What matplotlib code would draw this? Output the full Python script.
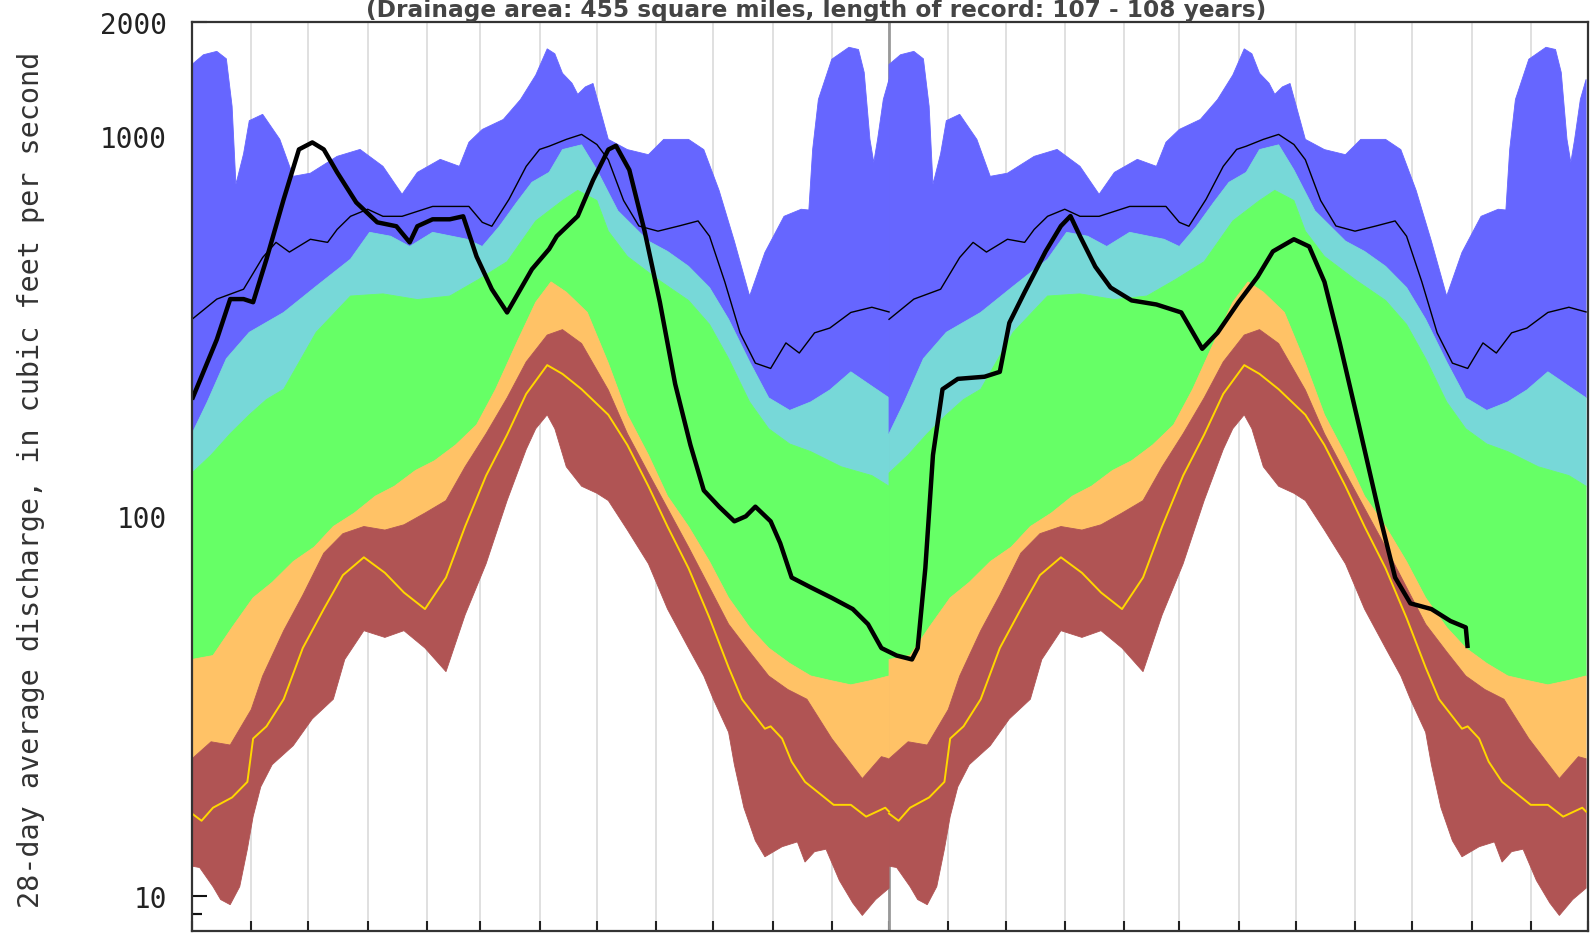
import numpy as np
import matplotlib
matplotlib.use("Agg")
import matplotlib.pyplot as plt
import matplotlib.dates as mdates
from matplotlib.ticker import FixedLocator, NullFormatter, FixedFormatter

# ---------------- data (water-year day 0 = Oct 1) ----------------
title_text = "(Drainage area: 455 square miles, length of record: 107 - 108 years)"
ylabel_text = "28-day average discharge, in cubic feet per second"
water_year_starts = ["2022-10-01", "2023-10-01"]

max_days = [0, 6, 13, 18, 21, 23, 27, 30, 37, 46, 53, 62, 76, 88, 100, 110, 118, 130, 140, 145,
            152, 163, 172, 180, 186, 190, 194, 199, 202, 206, 210, 218, 228, 239, 247, 260, 268,
            276, 284, 292, 300, 310, 319, 323, 325, 328, 335, 344, 349, 352, 355, 357, 359, 362, 365]
max_vals = [1546, 1640, 1674, 1600, 1200, 748, 900, 1100, 1143, 982, 785, 800, 886, 924, 834, 704,
            804, 870, 834, 965, 1043, 1108, 1250, 1450, 1700, 1650, 1466, 1380, 1290, 1350, 1378,
            982, 923, 895, 982, 982, 923, 721, 530, 380, 495, 616, 643, 640, 924, 1251, 1596, 1716,
            1693, 1473, 982, 854, 982, 1251, 1413]

p90_days = [0, 8, 18, 30, 48, 65, 83, 93, 104, 114, 126, 144, 152, 161, 170, 178, 187, 194, 204,
            212, 223, 239, 249, 260, 271, 281, 292, 302, 313, 324, 334, 345, 356, 365]
p90_vals = [165, 200, 260, 305, 344, 403, 475, 559, 546, 513, 559, 536, 513, 580, 670, 757, 804,
            923, 950, 816, 637, 530, 498, 455, 400, 330, 255, 205, 190, 200, 215, 240, 220, 205]

p75_days = [0, 10, 20, 30, 39, 48, 65, 83, 100, 118, 135, 150, 165, 180, 194, 202, 212, 218, 228,
            244, 260, 271, 281, 292, 302, 313, 324, 340, 356, 365]
p75_vals = [130, 145, 165, 185, 203, 216, 305, 380, 385, 372, 380, 420, 468, 599, 678, 721, 678,
            563, 483, 420, 370, 320, 260, 200, 170, 155, 148, 135, 128, 120]

p25_days = [0, 11, 21, 32, 42, 53, 64, 74, 85, 96, 106, 117, 127, 138, 149, 159, 170, 180, 188,
            196, 207, 218, 228, 239, 249, 260, 271, 281, 292, 302, 313, 324, 334, 345, 356, 365]
p25_vals = [42, 43, 51, 61, 67, 76, 83, 94, 102, 113, 120, 132, 140, 154, 174, 216, 286, 366, 414,
            389, 344, 253, 185, 145, 113, 94, 76, 61, 51, 45, 41, 38, 37, 36, 37, 38]

p10_days = [0, 10, 20, 31, 37, 48, 58, 69, 79, 90, 101, 111, 122, 133, 143, 154, 165, 175, 186,
            194, 204, 218, 228, 239, 249, 260, 271, 281, 292, 302, 312, 322, 335, 351, 361, 365]
p10_vals = [23, 25.5, 25, 31, 38, 50, 62, 80, 90, 94, 92, 95, 102, 110, 135, 165, 205, 255, 300,
            310, 285, 215, 165, 130, 105, 83, 65, 52, 44, 38, 35, 33, 26, 20.4, 23.3, 23]

min_days = [0, 4, 11, 15, 20, 25, 29, 32, 36, 42, 53, 63, 74, 80, 90, 101, 111, 122, 133, 143,
            154, 165, 175, 180, 186, 190, 196, 204, 212, 218, 228, 239, 249, 260, 268, 273, 281,
            284, 289, 295, 300, 309, 317, 321, 326, 332, 339, 346, 351, 358, 365]
min_vals = [12, 11.9, 10.6, 9.8, 9.5, 10.6, 13.3, 16.2, 19.4, 22.2, 24.9, 29.3, 33, 42, 50, 48, 50,
            45, 39, 55, 75, 110, 150, 170, 185, 170, 135, 120, 115, 110, 92, 75, 57, 45, 38, 33, 27,
            22.2, 17.1, 14.0, 12.7, 13.5, 13.9, 12.3, 13.1, 13.3, 11.0, 9.6, 8.9, 9.8, 10.5]

yellow_days = [0, 5, 11, 21, 29, 32, 39, 48, 58, 69, 79, 90, 101, 111, 122, 133, 143, 154, 165,
               175, 186, 194, 204, 218, 228, 239, 249, 260, 271, 281, 288, 300, 303, 309, 314, 321,
               330, 336, 345, 353, 363, 365]
yellow_vals = [16.5, 15.8, 17.1, 18.2, 20, 26, 28, 33, 45, 57, 70, 78, 71, 63, 57, 69, 94, 128, 164,
               210, 250, 237, 216, 185, 154, 120, 94, 73, 54, 40, 33, 27.6, 28, 26, 22.6, 20, 18.4,
               17.4, 17.4, 16.2, 17.1, 16.7]

mean_days = [0, 13, 27, 37, 44, 51, 62, 71, 76, 83, 92, 100, 110, 126, 135, 145, 152, 157, 166,
             175, 182, 187, 196, 204, 212, 218, 226, 234, 244, 255, 265, 271, 279, 287, 295, 303,
             311, 318, 326, 334, 345, 356, 365]
mean_vals = [330, 373, 396, 480, 526, 496, 536, 526, 569, 616, 643, 616, 616, 654, 654, 654, 594,
             580, 683, 834, 924, 942, 982, 1012, 952, 868, 678, 581, 563, 581, 599, 546, 414, 304,
             253, 245, 286, 269, 304, 313, 344, 355, 345]

# current record, days since 2022-10-01
cur_days = [0, 13, 20, 27, 32, 39, 48, 56, 63, 69, 76, 86, 97, 107, 114, 118, 126, 135, 142, 149,
            157, 165, 172, 178, 187, 191, 202, 210, 218, 222, 229, 237, 245, 253, 261, 268, 276,
            284, 290, 295, 303, 308, 314, 324, 335, 346, 354, 361, 369, 377, 380, 384, 388, 393,
            401, 415, 423, 428, 436, 447, 455, 460, 465, 473, 481, 492, 505, 518, 529, 537, 548,
            558, 566, 577, 585, 593, 601, 611, 622, 630, 638, 649, 659, 667, 668]
cur_vals = [203, 292, 373, 373, 366, 475, 683, 924, 964, 924, 804, 670, 594, 580, 526, 580, 605,
            605, 616, 483, 396, 344, 396, 447, 505, 546, 617, 767, 923, 945, 816, 563, 366, 223,
            154, 117, 106, 97, 100, 106, 97, 85, 69, 65, 61, 57, 52, 45, 43, 42, 45, 73, 145, 216,
            230, 233, 240, 323, 389, 498, 581, 617, 546, 454, 400, 370, 361, 344, 276, 304, 366,
            427, 498, 536, 513, 414, 286, 174, 100, 69, 59, 57, 53, 51, 45]

ytick_vals = [10, 100, 1000, 2000]
ytick_labels = ["10", "100", "1000", "2000"]

# ---------------- styling ----------------
C_BLUE = "#6666ff"
C_CYAN = "#77d8d8"
C_GREEN = "#66ff66"
C_ORANGE = "#ffc266"
C_BROWN = "#b05454"
C_YELLOW = "#ffd700"

W, H = 1595, 937
fig = plt.figure(figsize=(W / 100, H / 100), dpi=100)
ax = fig.add_axes([192 / W, 5 / H, 1396 / W, 909 / H])

x0 = mdates.date2num(np.datetime64("2022-10-01"))
x_end = mdates.date2num(np.datetime64("2024-10-01"))
wy_offsets = [mdates.date2num(np.datetime64(s)) - x0 for s in water_year_starts]

bands = [
    (max_days, max_vals, p90_days, p90_vals, C_BLUE),
    (p90_days, p90_vals, p75_days, p75_vals, C_CYAN),
    (p75_days, p75_vals, p25_days, p25_vals, C_GREEN),
    (p25_days, p25_vals, p10_days, p10_vals, C_ORANGE),
    (p10_days, p10_vals, min_days, min_vals, C_BROWN),
]
for off in wy_offsets:
    for ud, uv, ld, lv, col in bands:
        xs = np.concatenate([x0 + off + np.asarray(ud, float), (x0 + off + np.asarray(ld, float))[::-1]])
        ys = np.concatenate([np.asarray(uv, float), np.asarray(lv, float)[::-1]])
        ax.fill(xs, ys, facecolor=col, edgecolor=col, lw=0.6, zorder=1)
    ax.plot(x0 + off + np.asarray(yellow_days, float), yellow_vals, color=C_YELLOW, lw=1.4, zorder=3)
    ax.plot(x0 + off + np.asarray(mean_days, float), mean_vals, color="black", lw=1.0, zorder=4)

ax.plot(x0 + np.asarray(cur_days, float), cur_vals, color="black", lw=3.2, zorder=5,
        solid_joinstyle="round", solid_capstyle="butt")

ax.set_yscale("log")
ax.set_ylim(8.1, 2000)
ax.set_xlim(x0, x_end)

# x: month ticks and grid
ax.xaxis.set_major_locator(mdates.MonthLocator())
ax.tick_params(axis="x", which="major", direction="in", length=7, width=1.5, color="#222222",
               labelbottom=False, top=False)
ax.set_axisbelow(True)
ax.grid(True, axis="x", color="#dddddd", lw=1.3)
ax.axvline(x0 + wy_offsets[1], color="#999999", lw=2.0, zorder=0.6)

# y ticks
ax.yaxis.set_major_locator(FixedLocator(ytick_vals))
ax.yaxis.set_major_formatter(FixedFormatter(ytick_labels))
minor = [v * m for m in (1, 10, 100) for v in range(2, 10) if v * m not in ytick_vals]
ax.yaxis.set_minor_locator(FixedLocator(minor + [9]))
ax.yaxis.set_minor_formatter(NullFormatter())
ax.tick_params(axis="y", which="major", direction="in", length=11, width=1.5, color="#111111",
               pad=18, labelsize=20, labelcolor="#222222", right=False)
ax.tick_params(axis="y", which="minor", direction="in", length=7, width=1.5, color="#111111",
               right=False)
for lab in ax.get_yticklabels():
    lab.set_fontfamily("DejaVu Sans Mono")

for s in ax.spines.values():
    s.set_color("#333333")
    s.set_linewidth(1.6)
    s.set_zorder(10)

fig.text(31 / W, 1 - 480 / H, ylabel_text, rotation=90, ha="center", va="center",
         fontsize=20.5, family="DejaVu Sans Mono", color="#333333")

t = fig.text(816 / W, 1 - 17 / H, title_text, ha="center", va="baseline",
             fontsize=14, family="DejaVu Sans", fontweight="bold", color="#444444")
fig.canvas.draw()
w = t.get_window_extent(renderer=fig.canvas.get_renderer()).width
t.set_fontsize(14 * 900 / w)

fig.savefig("out.png", dpi=100)
